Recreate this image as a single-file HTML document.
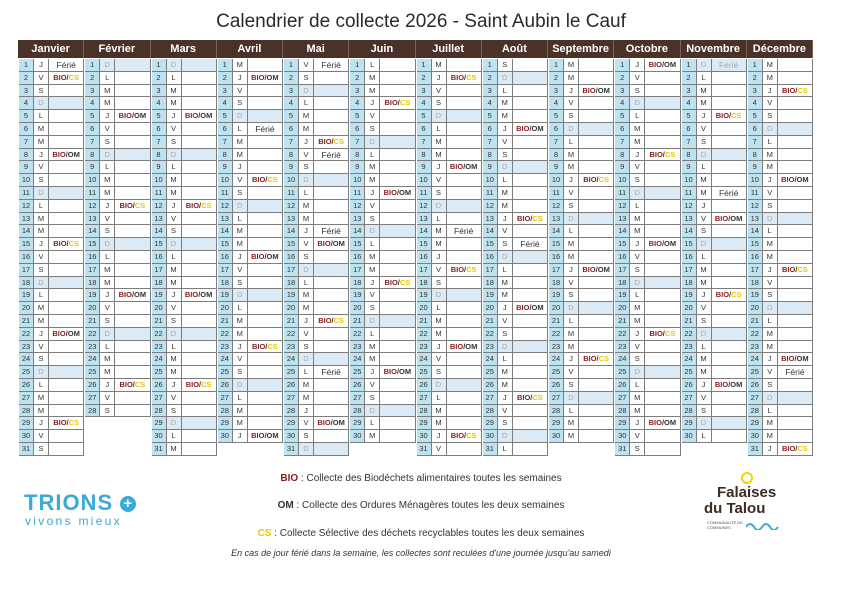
<!DOCTYPE html>
<html><head><meta charset="utf-8">
<style>
body{margin:0;width:842px;height:595px;background:#fff;position:relative;overflow:hidden;font-family:"Liberation Sans",sans-serif;}
#title{position:absolute;left:0;width:842px;top:11px;text-align:center;font-size:19px;color:#2a2a2a;}
.hd{position:absolute;top:40px;height:18px;background:#4b3229;color:#fff;font-weight:bold;font-size:11px;line-height:18px;text-align:center;box-sizing:border-box;border-right:1px solid #7a625a;}
.c{position:absolute;box-sizing:border-box;border:1px solid #7d7d7d;border-width:0 1px 1px 0;font-size:7.5px;line-height:12px;text-align:center;color:#333;white-space:nowrap;}
.n{background:#bde3f0;}
.sun{background:#dbeaf5;color:#aaa;}
.bio{color:#8b1c1c;font-weight:bold}.om{color:#333;font-weight:bold}.cs{color:#e8c800;font-weight:bold}
.leg{position:absolute;left:0;width:842px;text-align:center;font-size:10px;color:#333;}
</style></head><body>
<div id="title">Calendrier de collecte 2026 - Saint Aubin le Cauf</div>
<div id="cal"></div>
<div class="leg" style="top:473px"><span class="bio">BIO</span> : Collecte des Biodéchets alimentaires toutes les semaines</div>
<div class="leg" style="top:500px"><span class="om">OM</span> : Collecte des Ordures Ménagères toutes les deux semaines</div>
<div class="leg" style="top:528px"><span class="cs">CS</span> : Collecte Sélective des déchets recyclables toutes les deux semaines</div>
<div class="leg" style="top:548px;font-style:italic;font-size:9px">En cas de jour férié dans la semaine, les collectes sont reculées d'une journée jusqu'au samedi</div>
<div style="position:absolute;left:24px;top:490px;color:#3aaad8;font-weight:bold;font-size:22px;letter-spacing:1px">TRIONS <span style="display:inline-block;width:16px;height:16px;border-radius:50%;background:#3aaad8;color:#fff;font-size:15px;line-height:16px;text-align:center;vertical-align:2px">+</span></div>
<div style="position:absolute;left:25px;top:514px;color:#3aaad8;font-size:12px;letter-spacing:2.3px">vivons mieux</div>
<div style="position:absolute;left:704px;top:470px;width:110px;height:80px">
<div style="position:absolute;left:37px;top:2px;width:8px;height:8px;border:2px solid #f2d400;border-radius:50%"></div>
<div style="position:absolute;left:13px;top:14px;font-size:15px;font-weight:bold;color:#3d2a20">Falaises</div>
<div style="position:absolute;left:0;top:30px;font-size:15px;font-weight:bold;color:#3d2a20">du Talou</div>
<div style="position:absolute;left:3px;top:50px;font-size:4px;color:#555">COMMUNAUTÉ DE<br>COMMUNES</div>
<svg style="position:absolute;left:42px;top:50px" width="34" height="10"><path d="M0 7 Q4 1 8 7 T16 7 T24 7 T32 7" fill="none" stroke="#3aaad8" stroke-width="2"/></svg>
</div>
<script>
const months=["Janvier","Février","Mars","Avril","Mai","Juin","Juillet","Août","Septembre","Octobre","Novembre","Décembre"];
const letters=["D","L","M","M","J","V","S"];
const holidays=[[1,1],[4,6],[5,1],[5,8],[5,14],[5,25],[7,14],[8,15],[11,1],[11,11],[12,25]];
const collections=[[1,2,"CS"],[1,8,"OM"],[1,15,"CS"],[1,22,"OM"],[1,29,"CS"],[2,5,"OM"],[2,12,"CS"],[2,19,"OM"],[2,26,"CS"],[3,5,"OM"],[3,12,"CS"],[3,19,"OM"],[3,26,"CS"],[4,2,"OM"],[4,10,"CS"],[4,16,"OM"],[4,23,"CS"],[4,30,"OM"],[5,7,"CS"],[5,15,"OM"],[5,21,"CS"],[5,29,"OM"],[6,4,"CS"],[6,11,"OM"],[6,18,"CS"],[6,25,"OM"],[7,2,"CS"],[7,9,"OM"],[7,17,"CS"],[7,23,"OM"],[7,30,"CS"],[8,6,"OM"],[8,13,"CS"],[8,20,"OM"],[8,27,"CS"],[9,3,"OM"],[9,10,"CS"],[9,17,"OM"],[9,24,"CS"],[10,1,"OM"],[10,8,"CS"],[10,15,"OM"],[10,22,"CS"],[10,29,"OM"],[11,5,"CS"],[11,13,"OM"],[11,19,"CS"],[11,26,"OM"],[12,3,"CS"],[12,10,"OM"],[12,17,"CS"],[12,24,"OM"],[12,31,"CS"]];
const cal=document.getElementById('cal');
const X0=18,CW=66.25,Y0=58,RH=12.8;
months.forEach((m,i)=>{
  const h=document.createElement('div');h.className='hd';
  
  
  h.style.left=(X0+i*CW)+'px';h.style.width=CW+'px';h.textContent=m;cal.appendChild(h);
  const nd=new Date(2026,i+1,0).getDate();
  for(let d=1;d<=nd;d++){
    const wd=new Date(2026,i,d).getDay();
    const y=Y0+(d-1)*RH+1;const x=X0+i*CW;
    const sun=wd===0;
    const mk=(cls,l,w,html,name)=>{const e=document.createElement('div');e.className='c '+cls;
      
      
      e.style.left=l+'px';e.style.top=y+'px';e.style.width=w+'px';e.style.height=RH+'px';e.innerHTML=html;cal.appendChild(e);};
    mk('n',x+1,15,d,'day-number');
    mk(sun?'sun':'',x+16,15,letters[wd],'day-letter');
    let t='';
    if(holidays.some(h=>h[0]===i+1&&h[1]===d)) t='<span style="font-size:8.5px">Férié</span>';
    const c=collections.find(c=>c[0]===i+1&&c[1]===d);
    if(c) t='<span class="bio">BIO</span><span class="om">/</span><span class="'+(c[2]==='CS'?'cs':'om')+'">'+c[2]+'</span>';
    mk(sun?'sun':'',x+31,CW-31,t,'day-event');
  }
});
</script>
</body></html>
